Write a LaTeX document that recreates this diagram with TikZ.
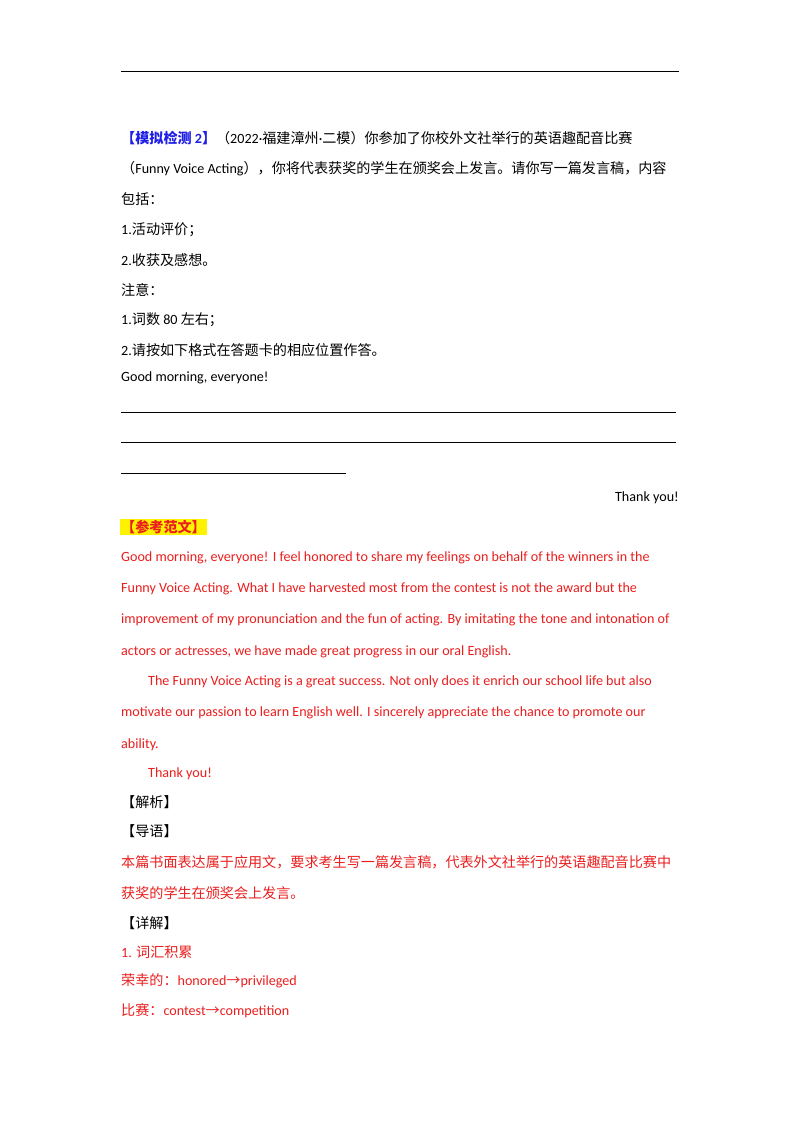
\documentclass[tikz,border=0pt]{standalone}
\usepackage{fontspec}
\setmainfont{Carlito}
\newfontfamily\cjk{Noto Sans CJK SC}
\newcommand{\C}[1]{{\cjk #1}}
\newcommand{\ar}{{\cjk →}}
\definecolor{myred}{RGB}{235,30,30}
\definecolor{myblue}{RGB}{30,30,230}
\begin{document}
\begin{tikzpicture}[x=1pt,y=-1pt,
  t/.style={anchor=west,inner sep=0pt,font=\fontsize{14.1}{16}\selectfont},
  r/.style={t,text=myred}]
\useasboundingbox (0,0) rectangle (800,1132);
\fill[white] (0,0) rectangle (800,1132);
\coordinate (ra) at (121,72); \coordinate (rb) at (679,72);
\draw[line width=1pt] (ra) -- (rb);
\node[t] (l1) at (121,138) {{\color{myblue}\bfseries\C{【模拟检测} 2\C{】}}\C{（}2022·\C{福建漳州}·\C{二模）你参加了你校外文社举行的英语趣配音比赛}};
\node[t] (l2) at (121,169) {\C{（}Funny Voice Acting\C{），你将代表获奖的学生在颁奖会上发言。请你写一篇发言稿，内容}};
\node[t] (l3) at (121,199) {\C{包括：}};
\node[t] (l4) at (121,230) {1.\C{活动评价；}};
\node[t] (l5) at (121,260) {2.\C{收获及感想。}};
\node[t] (l6) at (121,290) {\C{注意：}};
\node[t] (l7) at (121,320) {1.\C{词数} 80 \C{左右；}};
\node[t] (l8) at (121,350) {2.\C{请按如下格式在答题卡的相应位置作答。}};
\node[t] (l9) at (121,378) {Good morning, everyone!};
\coordinate (u1a) at (121,412); \coordinate (u1b) at (676,412);
\coordinate (u2a) at (121,442); \coordinate (u2b) at (676,442);
\coordinate (u3a) at (121,473); \coordinate (u3b) at (346,473);
\draw[line width=0.6pt] (u1a)--(u1b) (u2a)--(u2b) (u3a)--(u3b);
\node[t,anchor=east] (ty) at (679,498) {Thank you!};
\node[r,fill=yellow,inner sep=1pt,anchor=west] (ck) at (120,527) {\bfseries\C{【参考范文】}};
\node[r] (p1) at (121,558) {Good morning, everyone! I feel honored to share my feelings on behalf of the winners in the};
\node[r] (p2) at (121,589) {Funny Voice Acting. What I have harvested most from the contest is not the award but the};
\node[r] (p3) at (121,620) {improvement of my pronunciation and the fun of acting. By imitating the tone and intonation of};
\node[r] (p4) at (121,652) {actors or actresses, we have made great progress in our oral English.};
\node[r] (p5) at (148,682) {The Funny Voice Acting is a great success. Not only does it enrich our school life but also};
\node[r] (p6) at (121,713) {motivate our passion to learn English well. I sincerely appreciate the chance to promote our};
\node[r] (p7) at (121,745) {ability.};
\node[r] (p8) at (148,774) {Thank you!};
\node[t] (jx) at (121,802) {\C{【解析】}};
\node[t] (dy) at (121,831) {\C{【导语】}};
\node[r] (d1) at (121,862) {\C{本篇书面表达属于应用文，要求考生写一篇发言稿，代表外文社举行的英语趣配音比赛中}};
\node[r] (d2) at (121,893) {\C{获奖的学生在颁奖会上发言。}};
\node[t] (xj) at (121,923) {\C{【详解】}};
\node[r] (v0) at (121,952) {1. \C{词汇积累}};
\node[r] (v1) at (121,981) {\C{荣幸的：}honored\ar privileged};
\node[r] (v2) at (121,1011) {\C{比赛：}contest\ar competition};
\end{tikzpicture}
\end{document}
